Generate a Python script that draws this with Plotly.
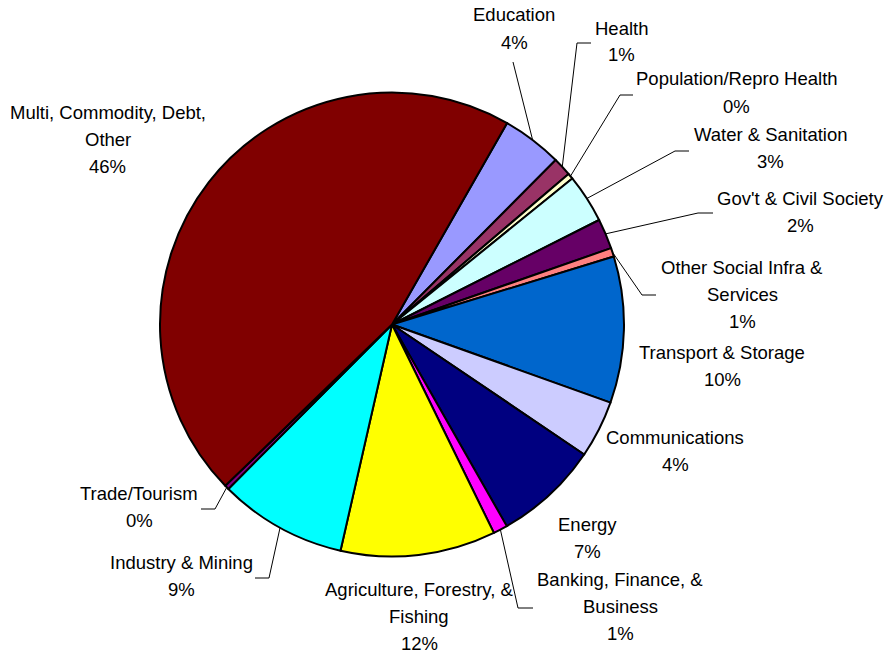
import math
import plotly.graph_objects as go

# ---- data ----
categories = [
    "Education", "Health", "Population/Repro Health", "Water & Sanitation",
    "Gov't & Civil Society", "Other Social Infra &<br>Services", "Transport & Storage",
    "Communications", "Energy", "Banking, Finance, &<br>Business",
    "Agriculture, Forestry, &<br>Fishing", "Industry & Mining", "Trade/Tourism",
    "Multi, Commodity, Debt,<br>Other",
]
values = [4.2, 1.3, 0.4, 3.4, 2.1, 0.6, 10.2, 4.0, 7.3, 1.0, 10.8, 8.9, 0.3, 45.5]
pct_labels = ["4%", "1%", "0%", "3%", "2%", "1%", "10%", "4%", "7%", "1%", "12%", "9%", "0%", "46%"]

# ---- styles / layout ----
colors = ["#9999FF", "#993366", "#FFFFCC", "#CCFFFF", "#660066", "#FF8080", "#0066CC",
          "#CCCCFF", "#000080", "#FF00FF", "#FFFF00", "#00FFFF", "#800080", "#800000"]

W, H = 888, 657
CX, CY, R = 392, 324.5, 232
ROT = 29.75

# label block centres (pixels)
label_pos = [(514, 28.5), (621, 41.5), (736.5, 92.5), (770.5, 148), (800, 212.3),
             (742, 294.6), (722, 366.4), (675, 451.3), (587, 537.5), (620, 606.7),
             (419, 616.7), (181.5, 576), (139, 506.5), (107.5, 139.4)]
# leader line elbow / end points (pixels); None = no leader
leaders = [((513, 62), (513, 62)), ((577, 43), (591, 43)), ((620, 95), (633, 95)),
           ((675, 151), (689, 151)), ((698, 213), (713, 213)), ((642, 295), (656, 295)),
           None, None, None, ((518, 608), (533, 608)), None,
           ((269, 578), (255, 578)), ((215, 509), (201, 509)), None]
LINE_H = 27
FONT = dict(family="Liberation Sans, Arial, sans-serif", size=18.5, color="black")


def px(x):
    return x / W


def py(y):
    return 1 - y / H


fig = go.Figure(go.Pie(
    labels=[c.replace("<br>", " ") for c in categories], values=values,
    sort=False, direction="clockwise", rotation=ROT,
    marker=dict(colors=colors, line=dict(color="black", width=2)),
    textinfo="none", hoverinfo="label+percent", showlegend=False,
    domain=dict(x=[px(CX - R), px(CX + R)], y=[py(CY + R), py(CY - R)]),
))

annotations = []
shapes = []
total = sum(values)
cum = 0.0
for i, cat in enumerate(categories):
    mid = math.radians(ROT + 360 * (cum + values[i] / 2) / total)
    cum += values[i]
    lines = cat.split("<br>") + [pct_labels[i]]
    lx, ly = label_pos[i]
    n = len(lines)
    for j, t in enumerate(lines):
        yy = ly + (j - (n - 1) / 2) * LINE_H
        annotations.append(dict(x=px(lx), y=py(yy), xref="paper", yref="paper",
                                text=t, showarrow=False, xanchor="center",
                                yanchor="middle", font=FONT))
    if leaders[i] is not None:
        sx = CX + R * math.sin(mid)
        sy = CY - R * math.cos(mid)
        (ex, ey), (fx, fy) = leaders[i]
        path = f"M {px(sx)},{py(sy)} L {px(ex)},{py(ey)} L {px(fx)},{py(fy)}"
        shapes.append(dict(type="path", path=path, xref="paper", yref="paper",
                           line=dict(color="black", width=1)))

fig.update_layout(
    width=W, height=H, margin=dict(l=0, r=0, t=0, b=0),
    paper_bgcolor="white", plot_bgcolor="white",
    annotations=annotations, shapes=shapes,
)
fig.write_html("out.html")
